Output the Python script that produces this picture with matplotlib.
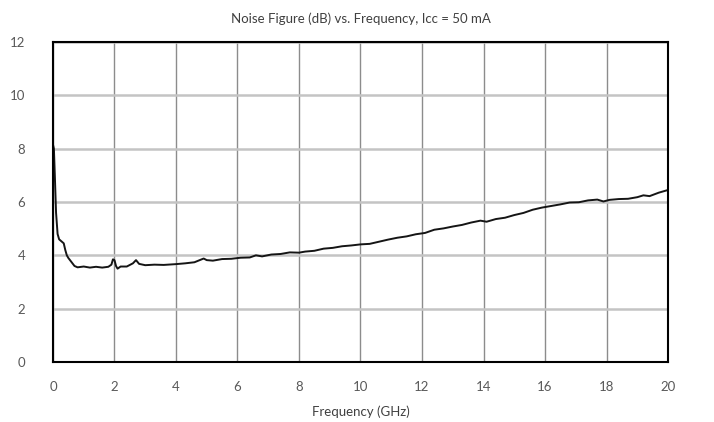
import matplotlib
matplotlib.use("agg")
import matplotlib.pyplot as plt

plt.rcParams["font.family"] = ["Lato", "DejaVu Sans"]

# Noise figure curve
freq_ghz = [0.0, 0.03, 0.06, 0.1, 0.15, 0.2, 0.25, 0.3, 0.35, 0.4, 0.45, 0.5, 0.6, 0.7, 0.8,
            1.0, 1.2, 1.4, 1.6, 1.8, 1.9, 1.95, 2.0, 2.05, 2.1, 2.2, 2.4, 2.6, 2.7, 2.8,
            3.0, 3.3, 3.6, 4.0, 4.3, 4.6, 4.9, 5.0, 5.2, 5.5, 5.8, 6.1, 6.4, 6.6, 6.8,
            7.1, 7.4, 7.7, 8.0, 8.2, 8.5, 8.8, 9.1, 9.4, 9.7, 10.0, 10.3, 10.6, 10.9,
            11.2, 11.5, 11.8, 12.1, 12.4, 12.7, 13.0, 13.3, 13.6, 13.9, 14.1, 14.4, 14.7,
            15.0, 15.3, 15.6, 15.9, 16.2, 16.5, 16.8, 17.1, 17.4, 17.7, 17.9, 18.1, 18.4,
            18.7, 19.0, 19.2, 19.4, 19.7, 20.0]
nf_db = [8.15, 8.0, 7.0, 5.6, 4.8, 4.6, 4.55, 4.5, 4.45, 4.2, 4.0, 3.9, 3.75, 3.6, 3.55,
         3.58, 3.54, 3.57, 3.54, 3.57, 3.65, 3.85, 3.82, 3.6, 3.5, 3.58, 3.58, 3.7, 3.82, 3.68,
         3.63, 3.65, 3.64, 3.67, 3.7, 3.74, 3.88, 3.82, 3.8, 3.86, 3.87, 3.91, 3.92, 4.0, 3.96,
         4.03, 4.05, 4.11, 4.1, 4.14, 4.17, 4.25, 4.28, 4.34, 4.37, 4.41, 4.43, 4.51, 4.59,
         4.66, 4.71, 4.79, 4.84, 4.96, 5.01, 5.08, 5.14, 5.23, 5.3, 5.26, 5.36, 5.41,
         5.51, 5.59, 5.71, 5.79, 5.85, 5.91, 5.98, 5.99, 6.06, 6.09, 6.02, 6.08, 6.11,
         6.12, 6.18, 6.25, 6.22, 6.35, 6.45]

x_ticks = list(range(0, 21, 2))
y_ticks = list(range(0, 13, 2))

fig = plt.figure(figsize=(7.14, 4.22), dpi=100)
ax = fig.add_axes([0.0742, 0.1422, 0.8614, 0.7583])

for x in x_ticks:
    ax.axvline(x, color="#8c8c8c", lw=1.0, zorder=1)
for y in y_ticks:
    ax.axhline(y, color="#c4c4c4", lw=1.8, zorder=1)

ax.plot(freq_ghz, nf_db, color="#151515", lw=1.4, zorder=3)

ax.set_xlim(0, 20)
ax.set_ylim(0, 12)
ax.set_xticks(x_ticks)
ax.set_yticks(y_ticks)
ax.tick_params(length=0, labelsize=9.5, colors="#595959")
ax.tick_params(axis="x", pad=14)
ax.tick_params(axis="y", pad=20)
for s in ax.spines.values():
    s.set_color("black")
    s.set_linewidth(1.5)
    s.set_zorder(4)

ax.set_title("Noise Figure (dB) vs. Frequency, Icc = 50 mA", fontsize=9.5,
             color="#404040", pad=14)
ax.set_xlabel("Frequency (GHz)", fontsize=9.5, color="#404040", labelpad=9)

fig.savefig("out.png", dpi=100)
